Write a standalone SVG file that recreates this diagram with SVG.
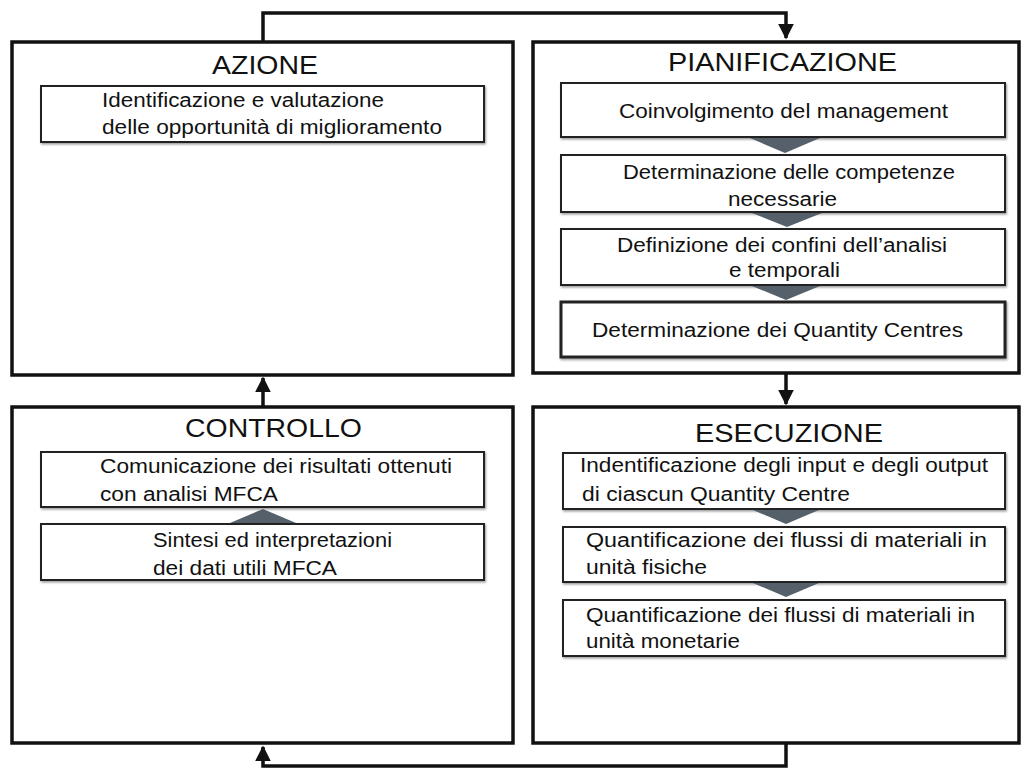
<svg xmlns="http://www.w3.org/2000/svg" width="1024" height="769" viewBox="0 0 1024 769">
<style>
.outer{fill:#fff;stroke:#111;stroke-width:3.5}
.inner{fill:#fff;stroke:#222;stroke-width:2;filter:url(#sh)}
.title{font-family:"Liberation Sans",Arial,sans-serif;font-size:26px;fill:#111}
.t{font-family:"Liberation Sans",Arial,sans-serif;font-size:20px;fill:#111}
.conn{fill:none;stroke:#111;stroke-width:3.5}
.chev{fill:#56606a}
</style>
<defs>
<filter id="sh" x="-5%" y="-10%" width="110%" height="130%">
<feDropShadow dx="1" dy="1.5" stdDeviation="0.8" flood-color="#000" flood-opacity="0.4"/>
</filter>
<marker id="ah" viewBox="0 0 10 10" refX="9" refY="5" markerWidth="4.5" markerHeight="4.5" markerUnits="strokeWidth" orient="auto">
<path d="M0,0 L10,5 L0,10 z" fill="#111"/>
</marker>
</defs>
<rect width="1024" height="769" fill="#fff"/>

<g id="connectors">
<path class="conn" d="M263,42 V13 H786 V38" marker-end="url(#ah)"/>
<path class="conn" d="M786,373 V404" marker-end="url(#ah)"/>
<path class="conn" d="M263,407 V378" marker-end="url(#ah)"/>
<path class="conn" d="M786,743 V766 H263 V747" marker-end="url(#ah)"/>
</g>

<g id="azione">
<rect class="outer" x="12" y="42" width="501" height="333"/>
<text class="title" x="212" y="74" textLength="106" lengthAdjust="spacingAndGlyphs">AZIONE</text>
<rect class="inner" x="41" y="86" width="443" height="56"/>
<text class="t" x="102" y="107" textLength="282" lengthAdjust="spacingAndGlyphs">Identificazione e valutazione</text>
<text class="t" x="102" y="134" textLength="340" lengthAdjust="spacingAndGlyphs">delle opportunità di miglioramento</text>
</g>

<g id="pianificazione">
<rect class="outer" x="533" y="42" width="486" height="331"/>
<text class="title" x="668" y="71" textLength="229" lengthAdjust="spacingAndGlyphs">PIANIFICAZIONE</text>
<rect class="inner" x="561" y="83" width="444" height="54"/>
<text class="t" x="619" y="118" textLength="329" lengthAdjust="spacingAndGlyphs">Coinvolgimento del management</text>
<polygon class="chev" points="750,138 820,138 785,153"/>
<rect class="inner" x="561" y="155" width="444" height="57"/>
<text class="t" x="623" y="179" textLength="332" lengthAdjust="spacingAndGlyphs">Determinazione delle competenze</text>
<text class="t" x="728" y="206" textLength="109" lengthAdjust="spacingAndGlyphs">necessarie</text>
<polygon class="chev" points="752,213 822,213 787,227"/>
<rect class="inner" x="561" y="229" width="444" height="56"/>
<text class="t" x="617" y="252" textLength="330" lengthAdjust="spacingAndGlyphs">Definizione dei confini dell’analisi</text>
<text class="t" x="729" y="277" textLength="111" lengthAdjust="spacingAndGlyphs">e temporali</text>
<polygon class="chev" points="752,286 820,286 786,300"/>
<rect class="inner" x="561" y="302" width="444" height="55" style="stroke-width:3"/>
<text class="t" x="592" y="337" textLength="371" lengthAdjust="spacingAndGlyphs">Determinazione dei Quantity Centres</text>
</g>

<g id="controllo">
<rect class="outer" x="12" y="407" width="501" height="336"/>
<text class="title" x="185" y="437" textLength="177" lengthAdjust="spacingAndGlyphs">CONTROLLO</text>
<rect class="inner" x="41" y="452" width="443" height="55"/>
<text class="t" x="100" y="473" textLength="352" lengthAdjust="spacingAndGlyphs">Comunicazione dei risultati ottenuti</text>
<text class="t" x="100" y="501" textLength="178" lengthAdjust="spacingAndGlyphs">con analisi MFCA</text>
<polygon class="chev" points="230,523 296,523 263,509"/>
<rect class="inner" x="41" y="524" width="443" height="56"/>
<text class="t" x="153" y="547" textLength="239" lengthAdjust="spacingAndGlyphs">Sintesi ed interpretazioni</text>
<text class="t" x="153" y="575" textLength="184" lengthAdjust="spacingAndGlyphs">dei dati utili MFCA</text>
</g>

<g id="esecuzione">
<rect class="outer" x="533" y="407" width="486" height="336"/>
<text class="title" x="695" y="442" textLength="188" lengthAdjust="spacingAndGlyphs">ESECUZIONE</text>
<rect class="inner" x="563" y="453" width="442" height="56"/>
<text class="t" x="580" y="472" textLength="408" lengthAdjust="spacingAndGlyphs">Indentificazione degli input e degli output</text>
<text class="t" x="582" y="501" textLength="268" lengthAdjust="spacingAndGlyphs">di ciascun Quantity Centre</text>
<polygon class="chev" points="753,510 819,510 786,524"/>
<rect class="inner" x="563" y="527" width="442" height="55"/>
<text class="t" x="586" y="547" textLength="401" lengthAdjust="spacingAndGlyphs">Quantificazione dei flussi di materiali in</text>
<text class="t" x="586" y="574" textLength="121" lengthAdjust="spacingAndGlyphs">unità fisiche</text>
<polygon class="chev" points="753,583 819,583 786,597"/>
<rect class="inner" x="563" y="600" width="442" height="56"/>
<text class="t" x="586" y="622" textLength="389" lengthAdjust="spacingAndGlyphs">Quantificazione dei flussi di materiali in</text>
<text class="t" x="586" y="648" textLength="154" lengthAdjust="spacingAndGlyphs">unità monetarie</text>
</g>
</svg>
